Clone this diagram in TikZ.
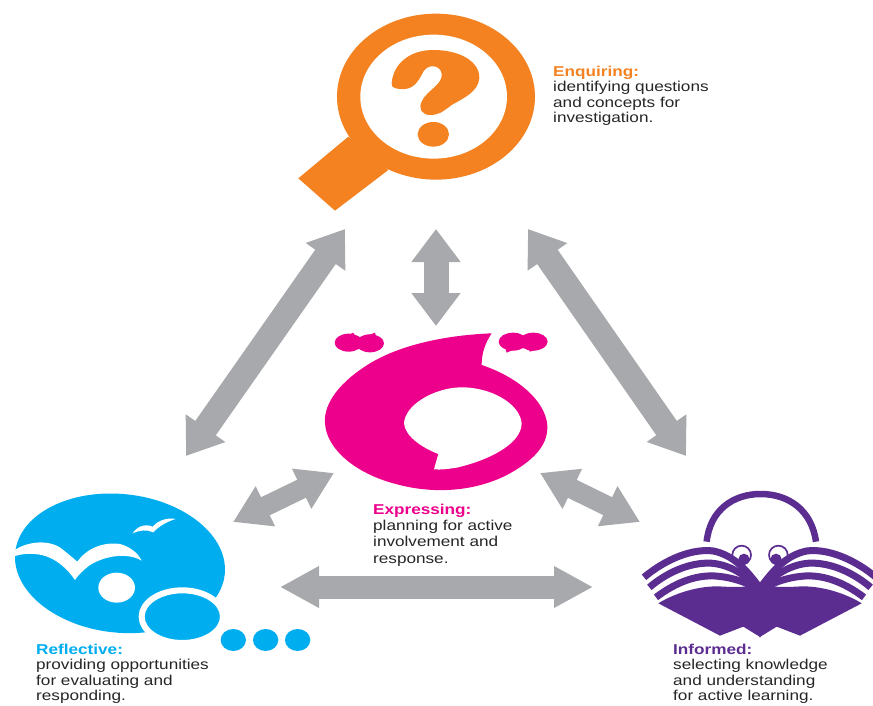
\documentclass[tikz,border=0pt]{standalone}
\usepackage{fontspec}
\setmainfont[FakeStretch=1.2]{Liberation Sans}
\usetikzlibrary{arrows.meta}
\definecolor{cOrange}{HTML}{F58220}
\definecolor{cPink}{HTML}{EC008C}
\definecolor{cBlue}{HTML}{00AEEF}
\definecolor{cPurple}{HTML}{5C2D91}
\definecolor{cGrey}{HTML}{A7A9AC}
\definecolor{cInk}{HTML}{262626}
\tikzset{
  bigway/.style={draw=cGrey,line width=25pt,{Triangle[length=34pt,width=46pt]}-{Triangle[length=34pt,width=46pt]}},
  midway/.style={draw=cGrey,line width=25pt,{Triangle[length=33pt,width=47pt]}-{Triangle[length=33pt,width=47pt]}},
  smallway/.style={draw=cGrey,line width=20pt,{Triangle[length=36pt,width=42pt]}-{Triangle[length=36pt,width=42pt]}},
  longway/.style={draw=cGrey,line width=23pt,{Triangle[length=39pt,width=39pt]}-{Triangle[length=39pt,width=39pt]}},
  caption/.style={anchor=north west,align=left,inner sep=0pt,text=cInk,font=\fontsize{14.3}{15.6}\selectfont},
  lowcaption/.style={caption,font=\fontsize{14.3}{16.2}\selectfont},
  zoomed/.style={x=0.3333pt,y=-0.3333pt},
}
\newcommand{\bookhalf}{%
  \draw[cPurple,line width=1.7pt] (335,195) circle[radius=28];
  \fill[cPurple] (342,208) ellipse[x radius=17,y radius=17];
  \fill[cPurple] (345,238) -- (392,292) -- (345,292) -- cycle;
  \draw[cPurple,line width=7pt] (42,262) .. controls (110,205) and (190,175) .. (250,183) .. controls (310,195) and (350,240) .. (388,292);
  \draw[cPurple,line width=7pt] (58,292) .. controls (120,240) and (190,215) .. (250,220) .. controls (310,228) and (350,260) .. (388,295);
  \draw[cPurple,line width=7pt] (78,322) .. controls (140,275) and (200,255) .. (255,258) .. controls (310,262) and (350,278) .. (388,298);
  \fill[cPurple] (85,340) .. controls (150,300) and (230,285) .. (280,290) .. controls (330,292) and (360,290) .. (392,285) -- (392,442) -- (340,410) -- (270,437) -- cycle;
}
\begin{document}
\begin{tikzpicture}[x=1pt,y=-1pt]
\useasboundingbox (0,0) rectangle (873,706);
\fill[white] (0,0) rectangle (873,706);

% Enquiring
\begin{scope}[shift={(280,0)},zoomed]
  \fill[cOrange] (205,410) -- (55,535) -- (165,632) -- (325,510) -- cycle;
  \fill[cOrange] (468,290) ellipse[x radius=297,y radius=249];
  \fill[white] (461,290) ellipse[x radius=220,y radius=186];
  \fill[cOrange] (335,250) .. controls (340,190) and (390,150) .. (460,150)
    .. controls (540,150) and (600,185) .. (598,235)
    .. controls (595,275) and (550,295) .. (515,315)
    .. controls (495,330) and (480,345) .. (450,345)
    .. controls (425,345) and (415,325) .. (425,305)
    .. controls (440,270) and (490,255) .. (485,220)
    .. controls (480,195) and (445,190) .. (430,215)
    .. controls (420,235) and (405,265) .. (375,267)
    .. controls (350,268) and (333,265) .. (335,250) -- cycle;
  \fill[cOrange] (460,403) ellipse[x radius=47,y radius=37];
\end{scope}
\node[caption] (enq) at (553,65.5) {{\bfseries\color{cOrange}Enquiring:}\\identifying questions\\and concepts for\\investigation.};

% Expressing
\begin{scope}[shift={(310,320)},zoomed]
  \fill[cPink] (545,40) .. controls (420,45) and (280,70) .. (180,130)
    .. controls (90,185) and (40,250) .. (45,310)
    .. controls (50,390) and (140,460) .. (250,490)
    .. controls (370,525) and (500,515) .. (600,460)
    .. controls (680,415) and (715,370) .. (712,315)
    .. controls (705,240) and (620,170) .. (515,135)
    .. controls (515,100) and (525,70) .. (545,40) -- cycle;
  \fill[white] (385,402) .. controls (340,385) and (285,350) .. (282,310)
    .. controls (285,255) and (370,205) .. (450,202)
    .. controls (540,200) and (630,250) .. (635,310)
    .. controls (635,370) and (540,420) .. (440,443)
    .. controls (415,447) and (390,450) .. (372,448) -- cycle;
  \fill[cPink] (116,68) ellipse[x radius=42,y radius=27];
  \fill[cPink] (180,70) ellipse[x radius=42,y radius=27];
  \fill[cPink] (105,50) -- (130,38) -- (135,50) -- cycle;
  \fill[cPink] (165,50) -- (195,38) -- (200,55) -- cycle;
  \fill[cPink] (609,65) ellipse[x radius=43,y radius=27];
  \fill[cPink] (670,65) ellipse[x radius=43,y radius=27];
  \fill[cPink] (585,80) -- (590,98) -- (620,85) -- cycle;
  \fill[cPink] (650,80) -- (660,95) -- (690,85) -- cycle;
\end{scope}
\node[lowcaption] (exp) at (373,504) {{\bfseries\color{cPink}Expressing:}\\planning for active\\involvement and\\response.};

% Reflective
\begin{scope}[shift={(0,490)},zoomed]
  \fill[cBlue,rotate around={-6:(360,220)}] (360,220) ellipse[x radius=316,y radius=208];
  \fill[cBlue,draw=white,line width=6pt] (547,380) ellipse[x radius=122,y radius=79];
  \fill[cBlue] (700,450) ellipse[x radius=38,y radius=33];
  \fill[cBlue] (797,450) ellipse[x radius=38,y radius=33];
  \fill[cBlue] (893,450) ellipse[x radius=38,y radius=33];
  \fill[white] (350,293) ellipse[x radius=55,y radius=45];
  \fill[white] (45,180) .. controls (80,155) and (150,145) .. (190,180)
    .. controls (205,192) and (220,205) .. (232,215)
    .. controls (260,175) and (310,155) .. (360,162)
    .. controls (390,170) and (415,190) .. (425,212)
    .. controls (385,188) and (320,195) .. (270,225)
    .. controls (250,240) and (235,255) .. (225,270)
    .. controls (205,240) and (170,205) .. (125,195)
    .. controls (100,190) and (70,190) .. (45,198) -- cycle;
  \fill[white] (398,130) .. controls (410,110) and (435,100) .. (458,110)
    .. controls (475,90) and (505,82) .. (527,87)
    .. controls (500,95) and (475,110) .. (460,127)
    .. controls (440,118) and (420,120) .. (398,130) -- cycle;
\end{scope}
\node[caption] (ref) at (36,643.5) {{\bfseries\color{cBlue}Reflective:}\\providing opportunities\\for evaluating and\\responding.};

% Informed
\begin{scope}[shift={(630,490)},zoomed]
  \draw[cPurple,line width=6.5pt] (230,155) .. controls (240,60) and (310,12) .. (392,12) .. controls (475,12) and (545,60) .. (558,155);
  \bookhalf
\end{scope}
\begin{scope}[shift={(890,490)},x=-0.3333pt,y=-0.3333pt]
  \bookhalf
\end{scope}
\node[caption] (inf) at (673,643.5) {{\bfseries\color{cPurple}Informed:}\\selecting knowledge\\and understanding\\for active learning.};

% Arrow ends
\coordinate (a1) at (345,229);
\coordinate (a2) at (186,456);
\coordinate (b1) at (436,229);
\coordinate (b2) at (436,326);
\coordinate (c1) at (528,229);
\coordinate (c2) at (686,456);
\coordinate (d1) at (334,473);
\coordinate (d2) at (233,522);
\coordinate (e1) at (540,473);
\coordinate (e2) at (640,522);
\coordinate (f1) at (280,587);
\coordinate (f2) at (593,587);
\draw[bigway] (a1) -- (a2);
\draw[midway] (b1) -- (b2);
\draw[bigway] (c1) -- (c2);
\draw[smallway] (d1) -- (d2);
\draw[smallway] (e1) -- (e2);
\draw[longway] (f1) -- (f2);
\end{tikzpicture}
\end{document}
